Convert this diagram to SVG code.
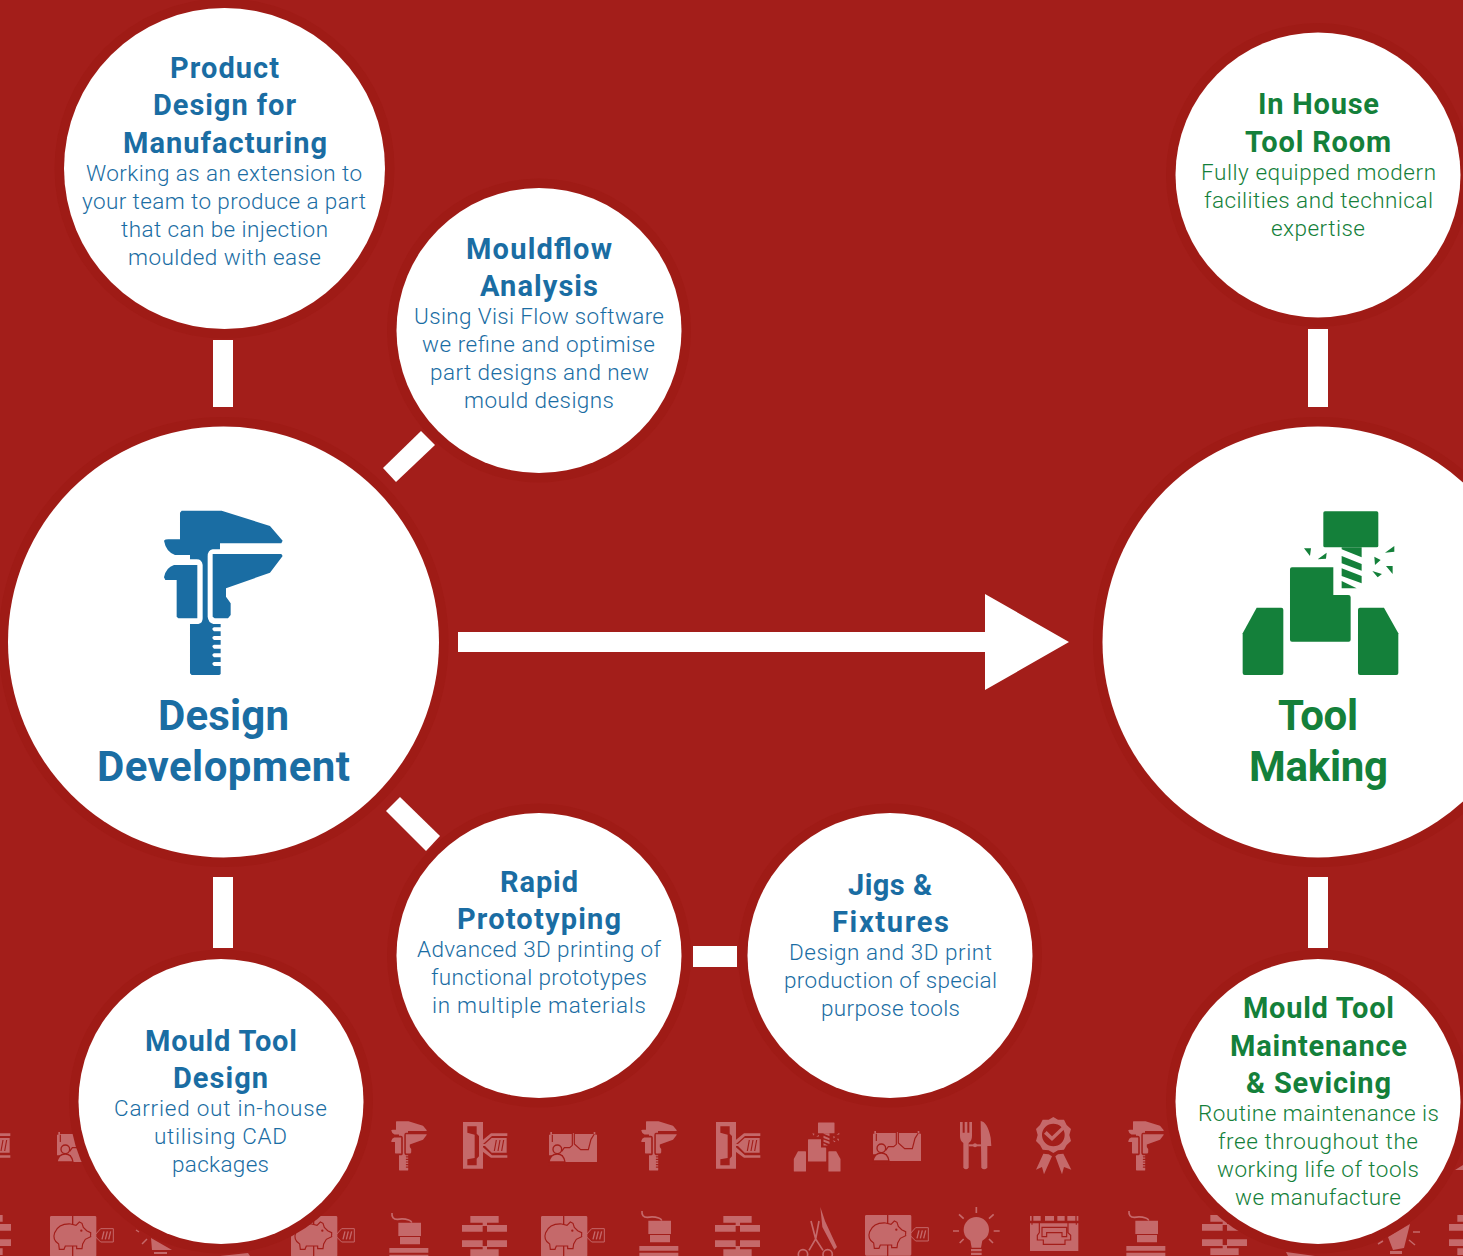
<svg xmlns="http://www.w3.org/2000/svg" xmlns:xlink="http://www.w3.org/1999/xlink" width="1463" height="1256" viewBox="0 0 1463 1256">
<style>
text{font-family:Roboto,"Liberation Sans",sans-serif;text-anchor:middle}
.halo{fill:#9f1b16}
.disc{fill:#fff}
.b{fill:#1a6da3}.g{fill:#14803a}
.t{font-size:29px;font-weight:700}
.m{font-size:42px;font-weight:700}
.d{font-size:22.500px;font-weight:300}
.bar{fill:#fff}
#tiles{fill:#c5696a}
.cut{fill:none;stroke:#a31e1a;stroke-width:3.500}
.ln{fill:none;stroke:#c5696a;stroke-width:5}
</style>
<defs>
<g id="caliper">
<path d="M125 62H245L390 108L428 152L424 160H240V178H218Q203 180 203 200V380Q205 398 220 402H242V412H222Q212 416 222 424H242V438H222Q212 442 222 450H242V464H222Q212 468 222 476H242V490H222Q212 494 222 502H242V516H222Q212 520 222 528H242V552L238 555H155L150 550V402H175Q188 400 188 385V225Q186 208 170 208H150V195H105Q78 185 72 152Q75 148 85 148H120V68Z"/>
<path d="M218 192H424L428 198L390 248L258 295V320L272 340V375L264 385H224L218 380Z"/>
<path d="M172 225H102Q78 232 72 262L76 270H110V380L115 385H172Z"/>
</g>
<g id="tool">
<rect x="280" y="34" width="165" height="108" rx="5"/>
<path d="M335 142H395V172L335 148ZM335 168L395 192V212L335 190ZM335 205L395 228V250L335 228ZM335 243L380 265H335Z"/>
<path d="M186 202H310V285H355Q362 285 362 292V419Q362 425 356 425H186Q180 425 180 419V208Q180 202 186 202Z"/>
<path d="M80 323H154Q160 323 160 329V519Q160 525 154 525H44Q38 525 38 519V400Z"/>
<path d="M390 323H462L505 400V519Q505 525 499 525H390Q384 525 384 519V329Q384 323 390 323Z"/>
<path d="M222 145H243L240 168ZM263 178L290 158L288 176ZM465 158L493 138V155ZM433 170L452 180L435 195ZM427 213L456 222L443 232ZM468 198H488V222Z"/>
</g>
<g id="kmould" transform="scale(.3333)">
<path fill-rule="evenodd" d="M0 0H60V140H0ZM13 13V32L35 38V108L13 112V130H41V110L48 103V42L41 35V13Z"/>
<path d="M60 66H66L86 48H131V92H86L66 72H60Z"/>
<path d="M52 60L84 34H133V42H87L60 66ZM60 76L87 100H133V107H84L52 84Z" />
<path class="cut" d="M100 54L94 87M111 54L105 87M122 54L116 87"/>
</g>
<g id="person" transform="scale(.3333)">
<path d="M0 8H4V0H9V6H70V3H76V6H134V0H139V8H144V90H42V70H0Z"/>
<path class="cut" d="M10 8V30M70 0V40L62 47H46L38 58M76 0V36L95 53H118L126 22L136 6"/>
<circle cx="25" cy="52" r="13" stroke="#a31e1a" stroke-width="4"/>
<path d="M0 90Q4 66 25 66Q44 66 48 90Z" stroke="#a31e1a" stroke-width="4"/>
<path d="M-3 92H52V100H-3Z" fill="#a31e1a"/>
</g>
<g id="forkknife" transform="scale(.3333)">
<path d="M0 3H8V35H14V3H22V35H28V3H36V45Q36 60 26 66V140Q18 150 10 140V66Q0 60 0 45Z"/>
<path d="M62 0Q82 2 92 50L94 75H82V140Q72 150 64 140Z"/>
<path d="M26 70H64V76H26Z"/><circle cx="45" cy="73" r="6"/>
</g>
<g id="badge" transform="scale(.3333)">
<path fill-rule="evenodd" d="M52 0L66 8L84 8L92 24L105 36L100 54L105 72L92 84L84 98L66 100L52 108L38 100L20 98L12 84L0 72L5 54L0 36L12 24L20 8L38 8ZM52 20A34 34 0 1 0 52 88A34 34 0 1 0 52 20Z"/>
<path d="M24 50L32 42L48 58L86 22L92 30L48 72Z"/>
<path d="M22 110L38 112L48 118L24 172L18 150L0 158ZM82 110L66 112L58 118L78 172L84 150L106 158Z"/>
</g>
<g id="piggy" transform="scale(.3333)">
<path d="M4 0H66V122H4Q0 122 0 118V4Q0 0 4 0ZM70 0H135Q139 0 139 4V118Q139 122 135 122H70Z"/>
<path fill="#c5696a" stroke="#a31e1a" stroke-width="3.500" d="M14 50Q26 22 62 24L78 28L88 18L96 22L100 34L110 44L122 50V62L106 70L98 84L96 98H80V90H46L42 100H28L26 84Q6 72 14 50Z"/>
<circle cx="94" cy="44" r="3.500" fill="#a31e1a"/>
<path class="ln" style="stroke-width:3" d="M124 58H134L152 38H190V78H152L134 60"/>
<path class="ln" style="stroke-width:4" d="M162 46L156 70M172 46L166 70M182 46L176 70"/>
</g>
<g id="press" transform="scale(.3333)">
<path class="ln" d="M6 3Q4 22 22 22Q40 18 56 24Q66 28 64 32"/>
<path d="M25 32H93V72H25ZM30 75H90V97H30ZM-2 108H115V122H-2ZM-2 128H115V150H-2ZM30 152H90V170H30Z"/>
</g>
<g id="block" transform="scale(.3333)">
<path d="M25 0H110V20H25ZM0 27H62V47H0ZM75 27H135V47H75ZM0 73H62V93H0ZM75 73H135V93H75ZM25 100H110V120H25ZM62 20H75V30H62ZM62 90H75V100H62Z"/>
</g>
<g id="scissors" transform="scale(.3333)">
<path d="M70 0L84 42L120 120L112 128L76 60Z"/>
<path class="ln" d="M42 42L56 96L36 130M66 42L56 96L78 130"/>
<circle class="ln" cx="18" cy="142" r="14"/>
<circle class="ln" cx="92" cy="142" r="14"/>
</g>
<g id="bulb" transform="scale(.3333)">
<circle cx="70" cy="68" r="38"/>
<path d="M50 90H90L84 122H56ZM54 126H86V133H54ZM54 137H86V144H54Z"/>
<path class="ln" d="M70 0V18M18 22L32 35M122 22L108 35M0 72H18M122 72H140M20 108L32 96M120 108L108 96"/>
</g>
<g id="toolbox" transform="scale(.3333)">
<path d="M0 0H5V14H0ZM10 0H32V14H10ZM45 0H72V14H45ZM82 0H104V14H82ZM112 0H136V14H112ZM140 0H145V14H140Z"/>
<path d="M0 22H145V105H0Z"/>
<path class="cut" d="M6 20V26M139 20V26M28 20V50L22 58V72H40V85H105V72H122V58L114 50V20M36 34H110V62H96V50H50V62H36Z"/>
</g>
</defs>
<rect width="1463" height="1256" fill="#a31e1a"/>
<g id="tiles">
<use href="#caliper" transform="translate(384,1115) scale(.1)"/>
<use href="#caliper" transform="translate(634,1115) scale(.1)"/>
<use href="#caliper" transform="translate(1121,1115) scale(.1)"/>
<use href="#tool" transform="translate(790,1119) scale(.1)"/>
<use href="#kmould" x="-34" y="1122"/>
<use href="#kmould" x="463" y="1122"/>
<use href="#kmould" x="716" y="1122"/>
<use href="#person" x="57" y="1132"/>
<use href="#person" x="549" y="1132"/>
<use href="#person" x="873" y="1131"/>
<use href="#forkknife" x="960" y="1121"/>
<use href="#badge" x="1036" y="1117"/>
<use href="#piggy" x="50" y="1216"/>
<use href="#piggy" x="291" y="1216"/>
<use href="#piggy" x="541" y="1216"/>
<use href="#piggy" x="865" y="1215"/>
<use href="#press" x="390" y="1212"/>
<use href="#press" x="640" y="1210"/>
<use href="#press" x="1127" y="1210"/>
<use href="#block" x="-34" y="1215"/>
<use href="#block" x="462" y="1216"/>
<use href="#block" x="715" y="1216"/>
<use href="#block" x="1202" y="1215"/>
<use href="#block" x="1449" y="1215"/>
<use href="#scissors" x="797" y="1207"/>
<use href="#bulb" x="953" y="1207"/>
<use href="#toolbox" x="1030" y="1216"/>
<path d="M151 1238L172 1250H152ZM154 1252H167V1254H154ZM220 1256L248 1253L250 1256ZM1388 1237L1410 1224L1404 1248L1393 1250ZM1390 1251H1402V1254H1390ZM1286 1252L1315 1256H1288ZM1455 1170L1463 1165V1170Z"/>
<path class="ln" style="stroke-width:1.500" d="M142 1244L147 1239M136 1230L139 1232M1413 1232H1420M1409 1240L1415 1245M1378 1244L1383 1241"/>
</g>
<g id="connectors">
<rect class="bar" x="213" y="340" width="20" height="67"/>
<rect class="bar" x="1308" y="329" width="20" height="78"/>
<rect class="bar" x="213" y="877" width="20" height="71"/>
<rect class="bar" x="1308" y="877" width="20" height="71"/>
<rect class="bar" x="693" y="946" width="44" height="21"/>
<polygon class="bar" points="383,468 421,431 435,445 396,482"/>
<polygon class="bar" points="400,797 440,836 426,851 386,811"/>
<polygon class="bar" points="458,632 985,632 985,594 1069,642 985,690 985,652 458,652"/>
</g>
<g id="product-design">
<circle class="halo" cx="224.500" cy="168.500" r="170"/><circle class="disc" cx="224.500" cy="168.500" r="160.500"/>
<g class="b">
<text class="t" x="224.500" y="78" textLength="109">Product</text>
<text class="t" x="224.500" y="115" textLength="143">Design for</text>
<text class="t" x="225" y="153" textLength="204">Manufacturing</text>
<text class="d" x="224" y="181" textLength="276">Working as an extension to</text>
<text class="d" x="224" y="209" textLength="284">your team to produce a part</text>
<text class="d" x="224.500" y="237" textLength="207">that can be injection</text>
<text class="d" x="224.500" y="265" textLength="193">moulded with ease</text>
</g></g>
<g id="mouldflow">
<circle class="halo" cx="539" cy="330.500" r="152"/><circle class="disc" cx="539" cy="330.500" r="142.500"/>
<g class="b">
<text class="t" x="539" y="259" textLength="146">Mouldflow</text>
<text class="t" x="539" y="296" textLength="118">Analysis</text>
<text class="d" x="539" y="324" textLength="250">Using Visi Flow software</text>
<text class="d" x="538.500" y="352" textLength="233">we refine and optimise</text>
<text class="d" x="539.500" y="380" textLength="219">part designs and new</text>
<text class="d" x="539" y="408" textLength="150">mould designs</text>
</g></g>
<g id="in-house">
<circle class="halo" cx="1318" cy="175" r="152"/><circle class="disc" cx="1318" cy="175" r="142.500"/>
<g class="g">
<text class="t" x="1318.500" y="114" textLength="121">In House</text>
<text class="t" x="1318" y="152" textLength="146">Tool Room</text>
<text class="d" x="1318.500" y="180" textLength="235">Fully equipped modern</text>
<text class="d" x="1318.500" y="208" textLength="229">facilities and technical</text>
<text class="d" x="1318" y="236" textLength="94">expertise</text>
</g></g>
<g id="design-development">
<circle class="halo" cx="223.500" cy="642" r="225"/><circle class="disc" cx="223.500" cy="642" r="215.500"/>
<use class="b" href="#caliper" transform="translate(140,490) scale(.3333)"/>
<g class="b">
<text class="m" x="223.500" y="730" textLength="131">Design</text>
<text class="m" x="223.500" y="781" textLength="253">Development</text>
</g></g>
<g id="tool-making">
<circle class="halo" cx="1318" cy="642" r="225"/><circle class="disc" cx="1318" cy="642" r="215.500"/>
<use class="g" href="#tool" transform="translate(1230,500) scale(.3333)"/>
<g class="g">
<text class="m" x="1318" y="730" textLength="80">Tool</text>
<text class="m" x="1318.500" y="781" textLength="139">Making</text>
</g></g>
<g id="rapid-prototyping">
<circle class="halo" cx="539" cy="955.500" r="152"/><circle class="disc" cx="539" cy="955.500" r="142.500"/>
<g class="b">
<text class="t" x="539" y="892" textLength="78">Rapid</text>
<text class="t" x="539" y="929" textLength="164">Prototyping</text>
<text class="d" x="539" y="957" textLength="244">Advanced 3D printing of</text>
<text class="d" x="539" y="985" textLength="216">functional prototypes</text>
<text class="d" x="539" y="1013" textLength="214">in multiple materials</text>
</g></g>
<g id="jigs-fixtures">
<circle class="halo" cx="890" cy="955.500" r="152"/><circle class="disc" cx="890" cy="955.500" r="142.500"/>
<g class="b">
<text class="t" x="890" y="895" textLength="84">Jigs &amp;</text>
<text class="t" x="890.500" y="932" textLength="117">Fixtures</text>
<text class="d" x="890.500" y="960" textLength="203">Design and 3D print</text>
<text class="d" x="890.500" y="988" textLength="213">production of special</text>
<text class="d" x="890.500" y="1016" textLength="139">purpose tools</text>
</g></g>
<g id="mould-tool-design">
<circle class="halo" cx="221" cy="1101.500" r="152"/><circle class="disc" cx="221" cy="1101.500" r="142.500"/>
<g class="b">
<text class="t" x="221" y="1051" textLength="152">Mould Tool</text>
<text class="t" x="220.500" y="1088" textLength="95">Design</text>
<text class="d" x="220.500" y="1116" textLength="213">Carried out in-house</text>
<text class="d" x="220.500" y="1144" textLength="133">utilising CAD</text>
<text class="d" x="220.500" y="1172" textLength="97">packages</text>
</g></g>
<g id="maintenance">
<circle class="halo" cx="1318" cy="1101.500" r="152"/><circle class="disc" cx="1318" cy="1101.500" r="142.500"/>
<g class="g">
<text class="t" x="1318.500" y="1018" textLength="151">Mould Tool</text>
<text class="t" x="1318.500" y="1056" textLength="177">Maintenance</text>
<text class="t" x="1318.500" y="1093" textLength="145">&amp; Sevicing</text>
<text class="d" x="1318.500" y="1121" textLength="241">Routine maintenance is</text>
<text class="d" x="1318" y="1149" textLength="200">free throughout the</text>
<text class="d" x="1318" y="1177" textLength="202">working life of tools</text>
<text class="d" x="1318" y="1205" textLength="166">we manufacture</text>
</g></g>
</svg>
